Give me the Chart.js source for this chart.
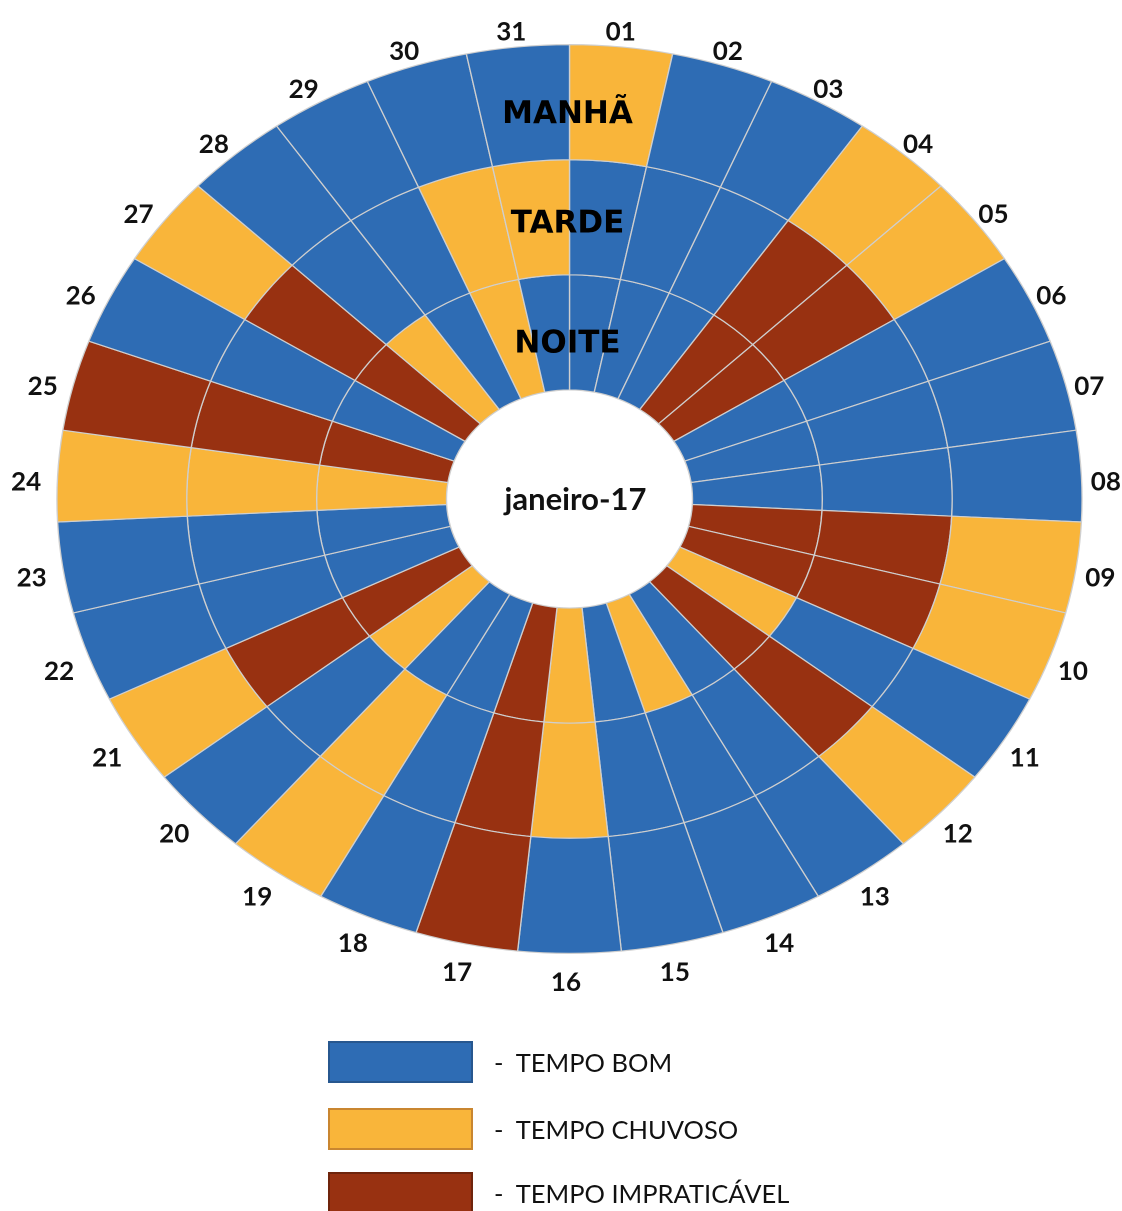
<!DOCTYPE html>
<html>
<head>
<meta charset="utf-8">
<script src="https://cdn.jsdelivr.net/npm/chart.js@4.4.1/dist/chart.umd.min.js"></script>
<style>
  html, body { margin: 0; padding: 0; background: #ffffff; }
  #wrap { position: absolute; left: 0; top: 0; width: 1122px; height: 1010px; }
  #legend { position: absolute; left: 0; top: 0; width: 1122px; height: 1211px; pointer-events: none; }
  .sw { position: absolute; left: 328px; width: 145px; height: 42px; box-sizing: border-box; border: 2px solid; }
  .lt { position: absolute; left: 494px; height: 42px; line-height: 42px; margin-top: 6px; font: 25.5px Lato, "Open Sans", sans-serif; color: #111; white-space: pre; }
</style>
</head>
<body>
<div id="wrap"><canvas id="c" width="1122" height="1010" style="width:1122px;height:1010px"></canvas></div>
<div id="legend"></div>
<script>
// ---- data ----
const days = ['01','02','03','04','05','06','07','08','09','10','11','12','13','14','15','16',
              '17','18','19','20','21','22','23','24','25','26','27','28','29','30','31'];
const periods = ['MANHÃ', 'TARDE', 'NOITE'];
// B = tempo bom, C = tempo chuvoso, I = tempo impraticável
const manha = ['C','B','B','C','C','B','B','B','C','C','B','C','B','B','B','B',
               'I','B','C','B','C','B','B','C','I','B','C','B','B','B','B'];
const tarde = ['B','B','B','I','I','B','B','B','I','I','B','I','B','B','B','C',
               'I','B','C','B','I','B','B','C','I','B','I','B','B','C','C'];
const noite = ['B','B','B','I','I','B','B','B','I','I','C','I','B','C','B','C',
               'I','B','B','C','I','B','B','C','I','B','I','C','B','C','B'];
const daySpan = [1,1,1,1,1,1,1,1,1,1,1,1,1,1,1,1,1,1,1,1,1,1,1,1,1,1,1,1,1,1,1];
const centerLabel = 'janeiro-17';
const legendCodes = ['B', 'C', 'I'];
const legendLabels = ['TEMPO BOM', 'TEMPO CHUVOSO', 'TEMPO IMPRATICÁVEL'];

// ---- styles ----
const fillOf = { B: '#2e6cb4', C: '#f9b53a', I: '#983111' };
const edgeOf = { B: '#27578f', C: '#c98630', I: '#6f240c' };
const SX = 1.128;  // horizontal stretch of the picture (ellipse)

const series = [manha, tarde, noite];

const stretch = {
  id: 'stretch',
  beforeDatasetsDraw(chart) {
    const ctx = chart.ctx;
    const cx = (chart.chartArea.left + chart.chartArea.right) / 2;
    ctx.save();
    ctx.translate(cx, 0);
    ctx.scale(SX, 1);
    ctx.translate(-cx, 0);
  },
  afterDatasetsDraw(chart) {
    chart.ctx.restore();
  }
};

const labels = {
  id: 'labels',
  afterDraw(chart) {
    const ctx = chart.ctx;
    const meta0 = chart.getDatasetMeta(0);
    const a0 = meta0.data[0];
    const cx = a0.x, cy = a0.y, R = a0.outerRadius;
    ctx.save();
    ctx.fillStyle = '#111';
    ctx.textAlign = 'center';
    ctx.textBaseline = 'middle';
    // day labels around
    ctx.font = 'bold 26px Lato, "Open Sans", sans-serif';
    meta0.data.forEach((a, i) => {
      const mid = (a.startAngle + a.endAngle) / 2;
      const x = cx - 3.5 + Math.cos(mid) * (R * SX + 28);
      const y = cy + 7 + Math.sin(mid) * (R + 22);
      ctx.fillText(days[i], x, y);
    });
    // ring titles
    ctx.font = 'bold 31px "DejaVu Sans", sans-serif';
    ctx.fillStyle = '#000';
    const shift = [13, 7, 12];
    periods.forEach((p, d) => {
      const a = chart.getDatasetMeta(d).data[0];
      const mr = (a.innerRadius + a.outerRadius) / 2;
      ctx.fillText(p, cx - 2, cy - mr + shift[d]);
    });
    // centre label
    ctx.font = 'bold 31px Lato, "Open Sans", sans-serif';
    ctx.fillStyle = '#111';
    ctx.fillText(centerLabel, cx + 6, cy + 1);
    ctx.restore();
  }
};

new Chart(document.getElementById('c'), {
  type: 'doughnut',
  data: {
    labels: days,
    datasets: series.map((s, d) => ({
      label: periods[d],
      data: daySpan,
      backgroundColor: s.map(k => fillOf[k]),
      borderColor: '#cfcfcf',
      borderWidth: 1.2,
      clip: false
    }))
  },
  options: {
    responsive: false,
    animation: false,
    devicePixelRatio: 2,
    cutout: '24%',
    rotation: 0,
    layout: { padding: { left: 114.5, right: 97.5, top: 44, bottom: 56 } },
    plugins: { legend: { display: false }, tooltip: { enabled: false } },
    events: []
  },
  plugins: [stretch, labels]
});

// legend
const legendTops = [1041, 1108, 1172];
const lg = document.getElementById('legend');
legendCodes.forEach((k, i) => {
  const sw = document.createElement('div');
  sw.className = 'sw';
  sw.style.top = legendTops[i] + 'px';
  sw.style.background = fillOf[k];
  sw.style.borderColor = edgeOf[k];
  lg.appendChild(sw);
  const t = document.createElement('div');
  t.className = 'lt';
  t.style.top = legendTops[i] + 'px';
  t.textContent = '-  ' + legendLabels[i];
  lg.appendChild(t);
});
</script>
</body>
</html>
